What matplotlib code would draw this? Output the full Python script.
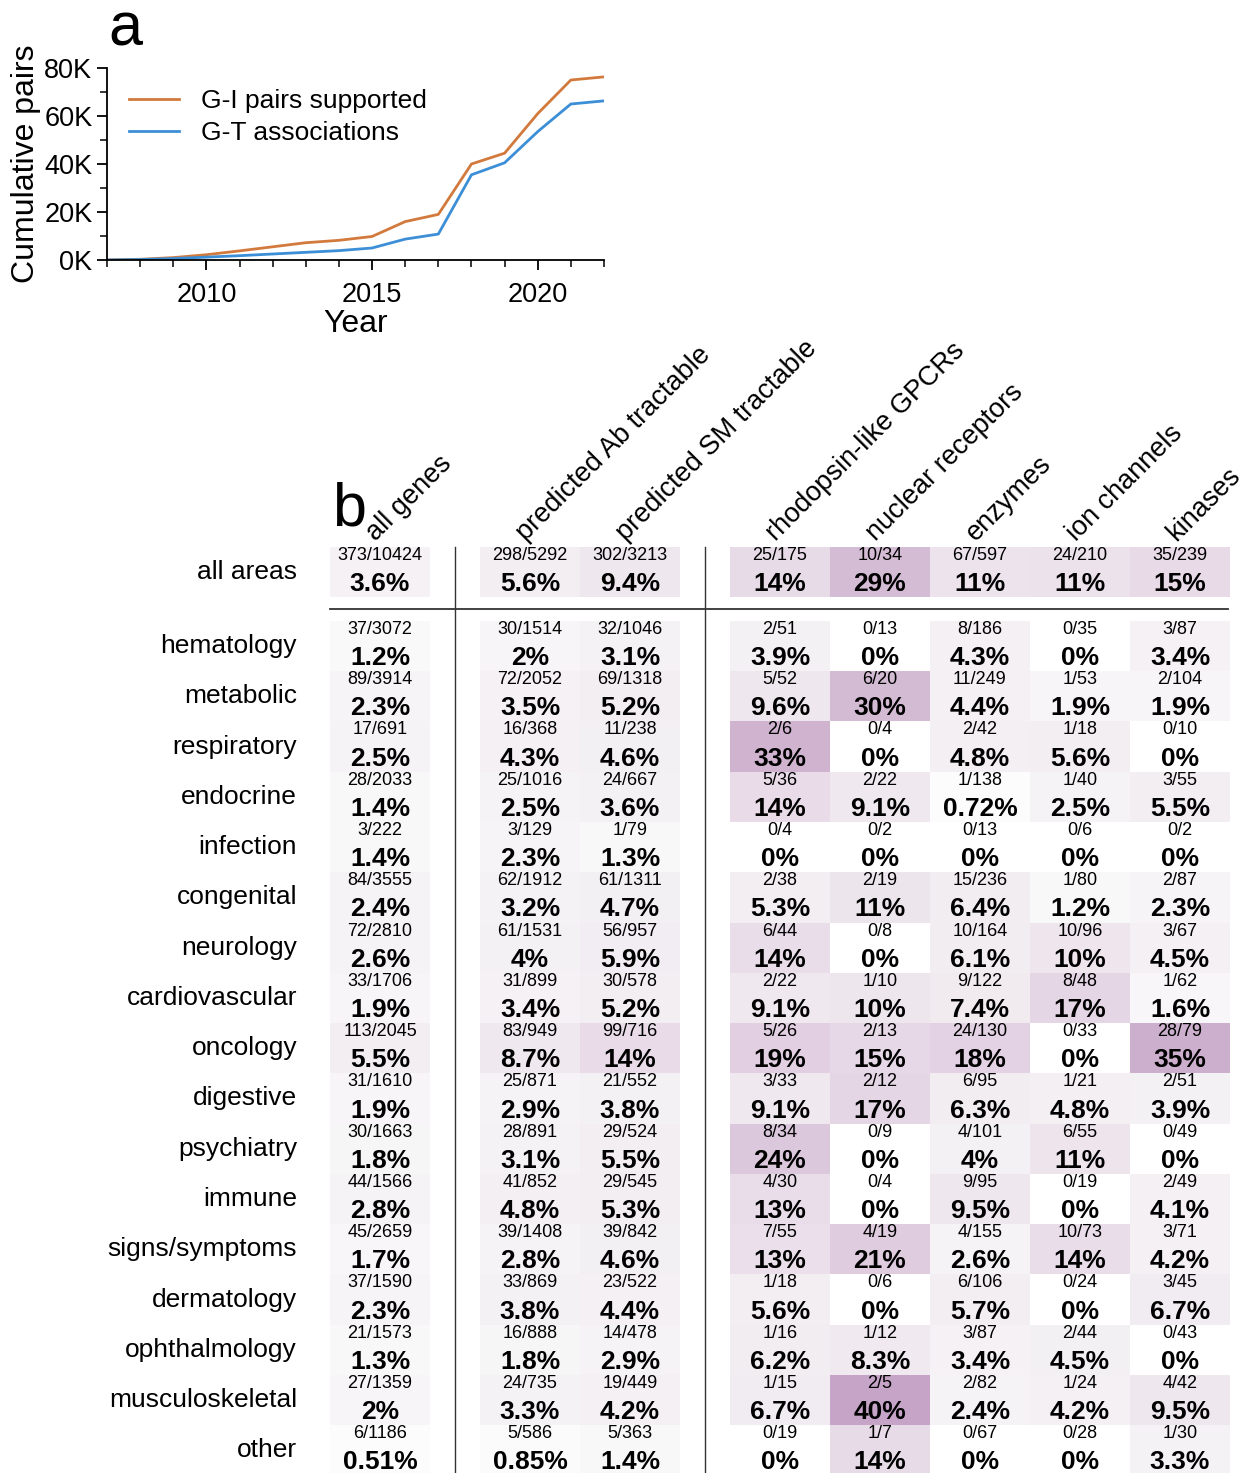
import numpy as np
import matplotlib
matplotlib.use("Agg")
import matplotlib.pyplot as plt
from matplotlib.colors import LinearSegmentedColormap
from matplotlib.patches import Rectangle
from matplotlib.ticker import MultipleLocator, FuncFormatter

plt.rcParams["font.family"] = ["Liberation Sans", "DejaVu Sans"]

# ---- panel a: cumulative pairs per year ----
years = [2007, 2008, 2009, 2010, 2011, 2012, 2013, 2014, 2015,
         2016, 2017, 2018, 2019, 2020, 2021, 2022]
gi_pairs = [0, 300, 1000, 2200, 3800, 5500, 7200, 8200, 9800,
            16000, 19000, 40000, 44500, 61000, 75000, 76300]
gt_assoc = [0, 200, 600, 1200, 1800, 2500, 3200, 3900, 5000,
            8700, 10800, 35500, 40500, 53500, 65000, 66300]

# ---- panel b: hits / genes per therapy area and gene set ----
gene_sets = ["all genes", "predicted Ab tractable", "predicted SM tractable",
             "rhodopsin-like GPCRs", "nuclear receptors", "enzymes",
             "ion channels", "kinases"]
areas = ["all areas", "hematology", "metabolic", "respiratory", "endocrine",
         "infection", "congenital", "neurology", "cardiovascular", "oncology",
         "digestive", "psychiatry", "immune", "signs/symptoms", "dermatology",
         "ophthalmology", "musculoskeletal", "other"]
hits = [
    [373, 298, 302, 25, 10, 67, 24, 35],
    [37, 30, 32, 2, 0, 8, 0, 3],
    [89, 72, 69, 5, 6, 11, 1, 2],
    [17, 16, 11, 2, 0, 2, 1, 0],
    [28, 25, 24, 5, 2, 1, 1, 3],
    [3, 3, 1, 0, 0, 0, 0, 0],
    [84, 62, 61, 2, 2, 15, 1, 2],
    [72, 61, 56, 6, 0, 10, 10, 3],
    [33, 31, 30, 2, 1, 9, 8, 1],
    [113, 83, 99, 5, 2, 24, 0, 28],
    [31, 25, 21, 3, 2, 6, 1, 2],
    [30, 28, 29, 8, 0, 4, 6, 0],
    [44, 41, 29, 4, 0, 9, 0, 2],
    [45, 39, 39, 7, 4, 4, 10, 3],
    [37, 33, 23, 1, 0, 6, 0, 3],
    [21, 16, 14, 1, 1, 3, 2, 0],
    [27, 24, 19, 1, 2, 2, 1, 4],
    [6, 5, 5, 0, 1, 0, 0, 1],
]
totals = [
    [10424, 5292, 3213, 175, 34, 597, 210, 239],
    [3072, 1514, 1046, 51, 13, 186, 35, 87],
    [3914, 2052, 1318, 52, 20, 249, 53, 104],
    [691, 368, 238, 6, 4, 42, 18, 10],
    [2033, 1016, 667, 36, 22, 138, 40, 55],
    [222, 129, 79, 4, 2, 13, 6, 2],
    [3555, 1912, 1311, 38, 19, 236, 80, 87],
    [2810, 1531, 957, 44, 8, 164, 96, 67],
    [1706, 899, 578, 22, 10, 122, 48, 62],
    [2045, 949, 716, 26, 13, 130, 33, 79],
    [1610, 871, 552, 33, 12, 95, 21, 51],
    [1663, 891, 524, 34, 9, 101, 55, 49],
    [1566, 852, 545, 30, 4, 95, 19, 49],
    [2659, 1408, 842, 55, 19, 155, 73, 71],
    [1590, 869, 522, 18, 6, 106, 24, 45],
    [1573, 888, 478, 16, 12, 87, 44, 43],
    [1359, 735, 449, 15, 5, 82, 24, 42],
    [1186, 586, 363, 19, 7, 67, 28, 30],
]

hits = np.array(hits)
totals = np.array(totals)
frac = hits / totals

fig = plt.figure(figsize=(12.47, 14.73), dpi=100)
W, H = 1247, 1473

# ---------------- line chart ----------------
ax = fig.add_axes([107 / W, 1 - 260 / H, 497 / W, 192 / H])
ax.plot(years, gi_pairs, color="#d27a3d", lw=2, label="G-I pairs supported")
ax.plot(years, gt_assoc, color="#3c8fd6", lw=2, label="G-T associations")
ax.set_xlim(2007, 2022)
ax.set_ylim(0, 80000)
ax.xaxis.set_major_locator(MultipleLocator(5))
ax.xaxis.set_minor_locator(MultipleLocator(1))
ax.yaxis.set_major_locator(MultipleLocator(20000))
ax.yaxis.set_minor_locator(MultipleLocator(10000))
ax.yaxis.set_major_formatter(FuncFormatter(lambda v, p: f"{int(v / 1000)}K"))
ax.tick_params(which="major", length=7, width=1.3, labelsize=19.5)
ax.tick_params(axis="x", which="major", pad=8.5)
ax.tick_params(which="minor", length=5, width=1.1)
for s in ["top", "right"]:
    ax.spines[s].set_visible(False)
for s in ["left", "bottom"]:
    ax.spines[s].set_linewidth(1.3)
ax.set_xlabel("Year", fontsize=23, labelpad=1)
ax.set_ylabel("Cumulative pairs", fontsize=23, labelpad=2)
ax.legend(loc="upper left", bbox_to_anchor=(-0.004, 1.015), frameon=False,
          fontsize=19, handlelength=1.9, labelspacing=0.3, handletextpad=0.85)
fig.text(108 / W, 1 - 45 / H, "a", fontsize=44, va="baseline", ha="left")

# ---------------- table / heatmap ----------------
cmap = LinearSegmentedColormap.from_list(
    "pur", [(0.0, "#ffffff"), (0.05, "#f6f4f6"), (0.25, "#eee6ed"),
            (0.375, "#e7d9e7"), (0.75, "#d4bbd4"), (0.875, "#cdb0cc"),
            (1.0, "#c6a4c7")])
vmax = 0.4

col_left = [0, 1.5, 2.5, 4, 5, 6, 7, 8]   # column units, with group gaps
top_row = -1.47                           # "all areas" row sits above the rest
row_top = [top_row] + list(range(len(areas) - 1))

tb = fig.add_axes([330 / W, 0, 900 / W, (H - 547) / H])
tb.set_xlim(0, 9)
tb.set_ylim(16.95, top_row)
tb.axis("off")

for i, area in enumerate(areas):
    y0 = row_top[i]
    for j in range(len(gene_sets)):
        x0 = col_left[j]
        v = frac[i, j]
        tb.add_patch(Rectangle((x0, y0), 1, 1, facecolor=cmap(min(v / vmax, 1)),
                               edgecolor="none", zorder=1))
        tb.text(x0 + 0.5, y0 + 0.17, f"{hits[i, j]}/{totals[i, j]}",
                ha="center", va="center", fontsize=13, zorder=3, clip_on=False)
        tb.text(x0 + 0.5, y0 + 0.74, f"{100 * v:.2g}%", ha="center",
                va="center", fontsize=19, fontweight="bold", zorder=3,
                clip_on=False)
    tb.text(-0.33, y0 + 0.5, area, ha="right", va="center", fontsize=19,
            clip_on=False)

for j, name in enumerate(gene_sets):
    tb.text(col_left[j] + 0.5, top_row - 0.02, name, rotation=45,
            rotation_mode="anchor", ha="left", va="bottom", fontsize=19.5,
            clip_on=False)

# group separators
tb.plot([0, 8.98], [-0.24, -0.24], color="#333333", lw=1.3, clip_on=False)
for xs in [1.25, 3.75]:
    tb.plot([xs, xs], [top_row, 16.95], color="#333333", lw=1.0,
            clip_on=False)

tb.text(0.02, -1.9, "b", fontsize=44, ha="left", va="baseline", clip_on=False)

fig.savefig("out.png", dpi=100)
